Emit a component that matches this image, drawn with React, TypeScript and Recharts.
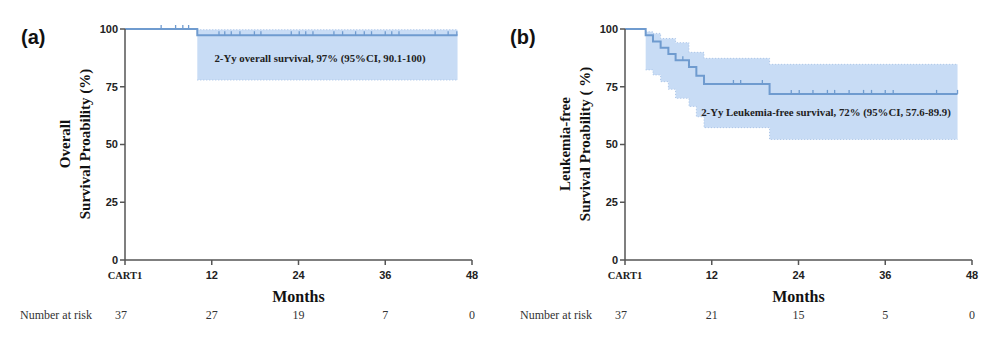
import React from 'react';
import { ComposedChart, Line, Area, Scatter, XAxis, YAxis } from 'recharts';

const MONTH_TICKS = [0, 12, 24, 36, 48];
const PCT_TICKS = [0, 25, 50, 75, 100];

// (a) overall survival
const OS_TIME = [0, 10, 46];
const OS_SURV = [100, 97.3, 97.3];
const OS_CI_TIME = [10, 46];
const OS_CI_LOW = [77.9, 77.9];
const OS_CI_HIGH = [99.7, 99.7];
const OS_CENSOR = [5, 7, 8, 8.8, 13, 13.8, 14.7, 15.9, 17.9, 18.8, 23, 24.1, 25, 26, 28.9, 30.1, 31.9, 33.1, 34.1, 36, 36.9, 37.9, 42.9, 44.7, 45.9];
const OS_AT_RISK = [37, 27, 19, 7, 0];

// (b) leukemia-free survival
const LFS_TIME = [0, 2.86, 3.87, 4.93, 6.0, 7.0, 8.85, 9.87, 10.93, 20.0, 46];
const LFS_SURV = [100, 97.3, 94.6, 91.9, 89.2, 86.5, 83.5, 79.8, 76.2, 71.9, 71.9];
const LFS_CI_TIME = [2.86, 3.87, 4.93, 6.0, 7.0, 8.85, 9.87, 10.93, 20.0, 46];
const LFS_CI_LOW = [82.3, 80.1, 77.2, 73.9, 70.0, 66.5, 62.0, 57.3, 52.2, 52.2];
const LFS_CI_HIGH = [98.8, 98.1, 95.9, 95.9, 94.1, 89.9, 89.9, 87.3, 84.7, 84.7];
const LFS_CENSOR = [8.0, 15, 16, 19, 23, 24.1, 26, 28, 29, 31, 33, 34.1, 36, 37.1, 43.1, 46];
const LFS_AT_RISK = [37, 21, 15, 5, 0];

const LINE = '#6f9bcf';
const BAND = '#c8dcf5';
const AXIS = '#555';
const SERIF = '"Liberation Serif", "Times New Roman", serif';
const SANS = '"Liberation Sans", Arial, sans-serif';

const W = 500;
const H = 342;

// survival value at time t from the step arrays
function survAt(times: number[], surv: number[], t: number) {
  let v = surv[0];
  for (let i = 0; i < times.length; i++) if (times[i] <= t) v = surv[i];
  return v;
}

function CensorMark(props: any) {
  const { cx, cy } = props;
  if (cx == null || cy == null) return null;
  return <line x1={cx} x2={cx} y1={cy} y2={cy - 4} stroke={LINE} strokeWidth={1.3} />;
}

function makeTick(atRisk: number[], firstShift: number) {
  return function MonthTick(props: any) {
    const { x, y, payload, index } = props;
    const isStart = payload.value === 0;
    return (
      <g>
        <text
          x={x}
          y={y + 12}
          textAnchor="middle"
          fontSize={isStart ? 10.5 : 11}
          fontWeight="bold"
          fontFamily={isStart ? SERIF : SANS}
          fill="#222"
        >
          {isStart ? 'CART1' : payload.value}
        </text>
        <text
          x={x + (index === 0 ? firstShift : 0)}
          y={y + 52}
          textAnchor="middle"
          fontSize={12}
          fontFamily={SERIF}
          fill="#333"
        >
          {atRisk[index]}
        </text>
      </g>
    );
  };
}

interface PanelProps {
  tag: string;
  tagX: number;
  yLines: string[];
  note: string;
  noteX: number;
  noteY: number;
  times: number[];
  surv: number[];
  ciTime: number[];
  ciLow: number[];
  ciHigh: number[];
  censor: number[];
  atRisk: number[];
  firstShift: number;
}

function Panel(p: PanelProps) {
  const lineData = p.times.map((t, i) => ({ t, s: p.surv[i] }));
  const bandData = p.ciTime.map((t, i) => ({ t, ci: [p.ciLow[i], p.ciHigh[i]] }));
  const censorData = p.censor.map((t) => ({ t, s: survAt(p.times, p.surv, t) }));
  const Tick = makeTick(p.atRisk, p.firstShift);
  return (
    <div style={{ position: 'relative', width: W, height: H }}>
      <ComposedChart width={W} height={H} margin={{ top: 29, right: 28, left: 85, bottom: 22 }}>
        <XAxis
          dataKey="t"
          type="number"
          domain={[0, 48]}
          ticks={MONTH_TICKS}
          allowDataOverflow
          tick={<Tick />}
          tickSize={5}
          height={60}
          stroke={AXIS}
          strokeWidth={1.5}
          interval={0}
        />
        <YAxis
          type="number"
          domain={[0, 100]}
          ticks={PCT_TICKS}
          width={40}
          tickSize={5}
          stroke={AXIS}
          strokeWidth={1.5}
          tick={{ fontSize: 11, fontWeight: 'bold', fontFamily: SANS, fill: '#222' }}
        />
        <Area
          data={bandData}
          dataKey="ci"
          type="stepAfter"
          fill={BAND}
          fillOpacity={1}
          stroke="#a9c3e6"
          strokeWidth={1}
          strokeDasharray="1 2"
          isAnimationActive={false}
        />
        <Line
          data={lineData}
          dataKey="s"
          type="stepAfter"
          stroke={LINE}
          strokeWidth={2}
          dot={false}
          isAnimationActive={false}
        />
        <Scatter data={censorData} dataKey="s" shape={<CensorMark />} isAnimationActive={false} />
      </ComposedChart>
      <svg width={W} height={H} style={{ position: 'absolute', left: 0, top: 0, pointerEvents: 'none' }}>
        <text x={p.tagX} y={44} fontSize={20} fontWeight="bold" fontFamily={SANS} fill="#111">
          {p.tag}
        </text>
        {p.yLines.map((l, i) => (
          <text
            key={l}
            transform={`translate(${70 + i * 20}, 144) rotate(-90)`}
            textAnchor="middle"
            fontSize={15}
            fontWeight="bold"
            fontFamily={SERIF}
            fill="#111"
          >
            {l}
          </text>
        ))}
        <text x={p.noteX} y={p.noteY} textAnchor="middle" fontSize={10.8} fontWeight="bold" fontFamily={SERIF} fill="#222">
          {p.note}
        </text>
        <text x={298.5} y={302} textAnchor="middle" fontSize={16} fontWeight="bold" fontFamily={SERIF} fill="#111">
          Months
        </text>
        <text x={20} y={319} fontSize={12} fontFamily={SERIF} fill="#333">
          Number at risk
        </text>
      </svg>
    </div>
  );
}

export default function App() {
  return (
    <div style={{ position: 'absolute', left: 0, top: 0, width: 1000, height: H, background: '#fff', display: 'flex' }}>
      <Panel
        tag="(a)"
        tagX={21}
        yLines={['Overall', 'Survival Proability (%)']}
        note="2-Yy overall survival, 97% (95%CI, 90.1-100)"
        noteX={320}
        noteY={62}
        times={OS_TIME}
        surv={OS_SURV}
        ciTime={OS_CI_TIME}
        ciLow={OS_CI_LOW}
        ciHigh={OS_CI_HIGH}
        censor={OS_CENSOR}
        atRisk={OS_AT_RISK}
        firstShift={-4}
      />
      <div style={{ width: 1 }} />
      <Panel
        tag="(b)"
        tagX={10}
        yLines={['Leukemia-free', 'Survival Proability ( %)']}
        note="2-Yy Leukemia-free survival, 72% (95%CI, 57.6-89.9)"
        noteX={326}
        noteY={116}
        times={LFS_TIME}
        surv={LFS_SURV}
        ciTime={LFS_CI_TIME}
        ciLow={LFS_CI_LOW}
        ciHigh={LFS_CI_HIGH}
        censor={LFS_CENSOR}
        atRisk={LFS_AT_RISK}
        firstShift={-4}
      />
    </div>
  );
}
